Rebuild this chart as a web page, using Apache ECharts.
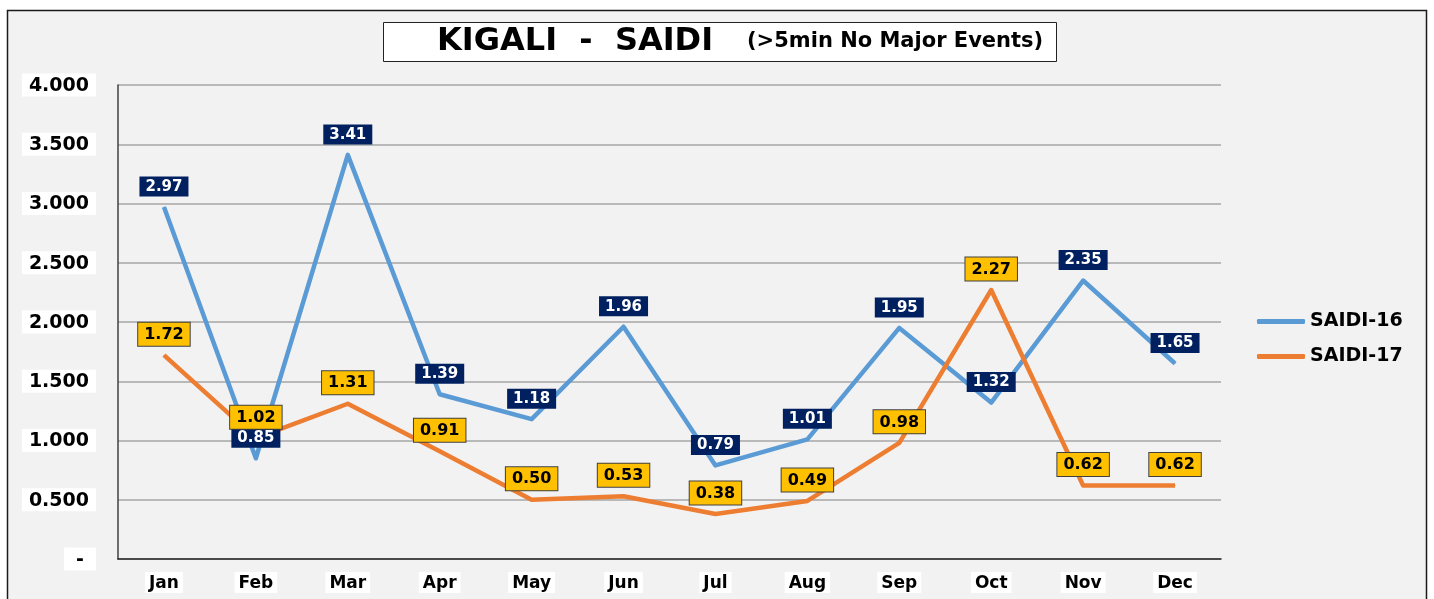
<!DOCTYPE html>
<html>
<head>
<meta charset="utf-8">
<script src="https://cdn.jsdelivr.net/npm/echarts@6/dist/echarts.min.js"></script>
<style>
    html, body {margin: 0; padding: 0; background: #fff;}
    #main {width: 1434px; height: 599px;}
</style>
</head>
<body>
<div id="main"></div>
<script>
var months = ['Jan', 'Feb', 'Mar', 'Apr', 'May', 'Jun', 'Jul', 'Aug', 'Sep', 'Oct', 'Nov', 'Dec'];
var saidi16 = [2.97, 0.85, 3.41, 1.39, 1.18, 1.96, 0.79, 1.01, 1.95, 1.32, 2.35, 1.65];
var saidi17 = [1.72, 1.02, 1.31, 0.91, 0.50, 0.53, 0.38, 0.49, 0.98, 2.27, 0.62, 0.62];
var yMin = 0, yMax = 4, yStep = 0.5;

~function () {
    var font = 'DejaVu Sans';
    var myChart = echarts.init(document.getElementById('main'));
    var option = {
        backgroundColor: '#ffffff',
        animation: false,
        graphic: [
            {
                type: 'rect',
                z: -10,
                silent: true,
                shape: {x: 7.5, y: 10.5, width: 1419, height: 620},
                style: {fill: '#f2f2f2', stroke: '#1a1a1a', lineWidth: 1.5}
            }
        ],
        title: {
            left: 383,
            top: 20,
            text: '{a|KIGALI  -  SAIDI}{b|(>5min No Major Events)}',
            backgroundColor: '#ffffff',
            borderColor: '#222',
            borderWidth: 1,
            padding: [4, 10, 4, 54],
            textStyle: {
                rich: {
                    a: {fontFamily: font, fontWeight: 'bold', fontSize: 32, color: '#000', width: 310, lineHeight: 36},
                    b: {fontFamily: font, fontWeight: 'bold', fontSize: 21, color: '#000', width: 300, lineHeight: 36}
                }
            }
        },
        legend: {
            orient: 'vertical',
            left: 1252,
            top: 306,
            itemWidth: 48,
            itemHeight: 5,
            itemGap: 14,
            icon: 'roundRect',
            data: ['SAIDI-16', 'SAIDI-17'],
            textStyle: {fontFamily: font, fontWeight: 'bold', fontSize: 19, color: '#000', lineHeight: 21}
        },
        grid: {
            left: 118,
            top: 85,
            right: 213,
            bottom: 40
        },
        xAxis: {
            type: 'category',
            data: months,
            boundaryGap: true,
            axisLine: {lineStyle: {color: '#262626', width: 1.5}},
            axisTick: {show: false},
            axisLabel: {
                margin: 13,
                fontFamily: font,
                fontWeight: 'bold',
                fontSize: 17,
                color: '#000',
                backgroundColor: '#ffffff',
                padding: [3, 4, 1, 4]
            }
        },
        yAxis: {
            type: 'value',
            min: yMin,
            max: yMax,
            interval: yStep,
            axisLine: {show: true, lineStyle: {color: '#404040', width: 1.5}},
            axisTick: {show: false},
            splitLine: {lineStyle: {color: '#a6a6a6', width: 1.5}},
            axisLabel: {
                margin: 22,
                formatter: function (v) {
                    return v === 0 ? '{d|-}' : '{n|' + v.toFixed(3) + '}';
                },
                rich: {
                    n: {fontFamily: font, fontWeight: 'bold', fontSize: 19, color: '#000', backgroundColor: '#ffffff', padding: [3, 7, 1, 7]},
                    d: {fontFamily: font, fontWeight: 'bold', fontSize: 19, color: '#000', backgroundColor: '#ffffff', padding: [3, 12, 1, 12]}
                }
            }
        },
        series: [
            {
                name: 'SAIDI-16',
                type: 'line',
                data: saidi16,
                symbol: 'circle',
                symbolSize: 1,
                lineStyle: {color: '#5b9bd5', width: 4.5, join: 'round'},
                itemStyle: {color: '#5b9bd5'},
                label: {
                    show: true,
                    position: 'top',
                    distance: 10,
                    formatter: function (p) { return p.value.toFixed(2); },
                    fontFamily: font,
                    fontWeight: 'bold',
                    fontSize: 15,
                    color: '#ffffff',
                    backgroundColor: '#002060',
                    padding: [3, 6, 2, 6]
                }
            },
            {
                name: 'SAIDI-17',
                type: 'line',
                data: saidi17,
                symbol: 'circle',
                symbolSize: 1,
                lineStyle: {color: '#ed7d31', width: 4.5, join: 'round'},
                itemStyle: {color: '#ed7d31'},
                label: {
                    show: true,
                    position: 'top',
                    distance: 9,
                    formatter: function (p) { return p.value.toFixed(2); },
                    fontFamily: font,
                    fontWeight: 'bold',
                    fontSize: 16,
                    color: '#000000',
                    backgroundColor: '#ffc000',
                    borderColor: '#404040',
                    borderWidth: 1,
                    padding: [4, 6, 3, 6]
                }
            }
        ]
    };
    myChart.setOption(option);
}();
</script>
</body>
</html>
